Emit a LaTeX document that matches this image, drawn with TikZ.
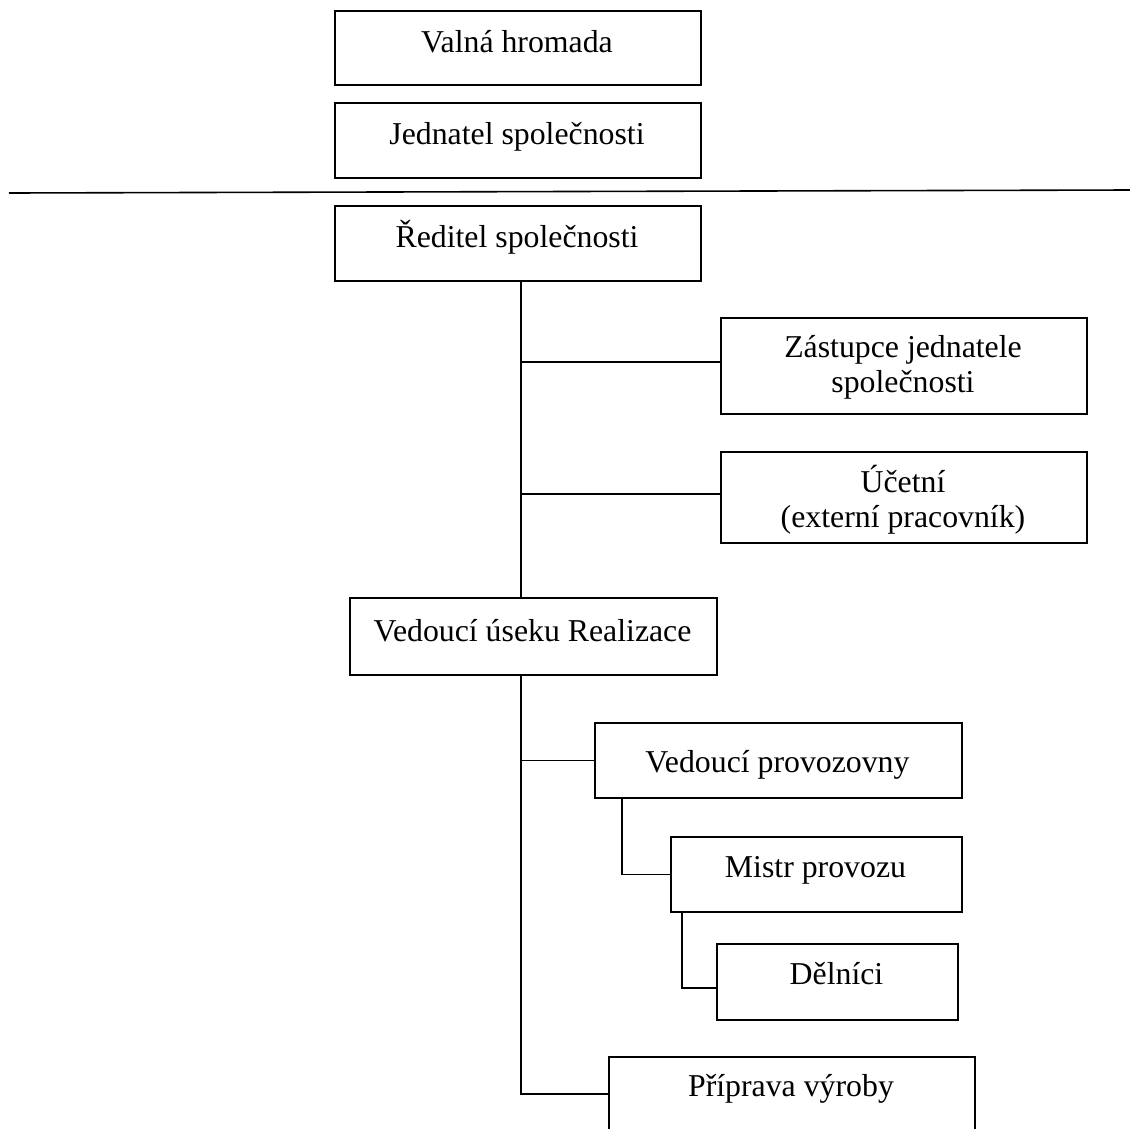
\documentclass[tikz,border=0pt]{standalone}
\usepackage{fontspec}
\setmainfont{Liberation Serif}
\begin{document}
\begin{tikzpicture}[x=1pt,y=-1pt,
  box/.style={draw, line width=1.6pt, inner sep=0pt, anchor=north west},
  txt/.style={anchor=base, inner sep=0pt, font=\fontsize{31.8}{35.5}\selectfont},
  conn/.style={line width=1.6pt}]
\useasboundingbox (0,0) rectangle (1130,1128);
% boxes
\node[box, minimum width=366pt, minimum height=74pt] (valna) at (334,10) {};
\node[box, minimum width=366pt, minimum height=75pt] (jedn) at (334,102) {};
\node[box, minimum width=366pt, minimum height=75pt] (redit) at (334,205) {};
\node[box, minimum width=366pt, minimum height=96pt] (zast) at (720,317) {};
\node[box, minimum width=366pt, minimum height=91pt] (ucet) at (720,451) {};
\node[box, minimum width=367pt, minimum height=77pt] (vedu) at (349,597) {};
\node[box, minimum width=367pt, minimum height=75pt] (vprov) at (594,722) {};
\node[box, minimum width=291pt, minimum height=75pt] (mistr) at (670,836) {};
\node[box, minimum width=241pt, minimum height=76pt] (del) at (716,943) {};
\node[box, minimum width=366pt, minimum height=74pt] (prip) at (608,1056) {};
% texts
\node[txt] (tvalna) at (517,52) {Valná hromada};
\node[txt] (tjedn) at (517,144) {Jednatel společnosti};
\node[txt] (tredit) at (517,247) {Ředitel společnosti};
\node[txt] (tzast) at (903,357) {\begin{tabular}[t]{@{}c@{}}Zástupce jednatele\\společnosti\end{tabular}};
\node[txt] (tucet) at (903,492) {\begin{tabular}[t]{@{}c@{}}Účetní\\(externí pracovník)\end{tabular}};
\node[txt] (tvedu) at (532.5,641) {Vedoucí úseku Realizace};
\node[txt] (tvprov) at (777.5,772) {Vedoucí provozovny};
\node[txt] (tmistr) at (815.5,877) {Mistr provozu};
\node[txt] (tdel) at (836.5,984) {Dělníci};
\node[txt] (tprip) at (791,1096) {Příprava výroby};
% separator line
\coordinate (hl) at (9,193);
\coordinate (hr) at (1130,190);
\draw[conn] (hl) -- (hr);
% connectors
\coordinate (m1) at (521,0);
\coordinate (m2) at (622,0);
\coordinate (m3) at (682,0);
\draw[conn] (redit.south -| m1) -- (vedu.north -| m1);
\draw[conn] ([yshift=4pt]zast.west) -- ([yshift=4pt]zast.west -| m1);
\draw[conn] ([yshift=3.5pt]ucet.west) -- ([yshift=3.5pt]ucet.west -| m1);
\draw[conn] (vedu.south -| m1) -- (prip.west -| m1) -- (prip.west);
\draw[conn] (vprov.west) -- (vprov.west -| m1);
\draw[conn] (vprov.south -| m2) -- (mistr.west -| m2) -- (mistr.west);
\draw[conn] (mistr.south -| m3) -- ([yshift=-6pt]del.west -| m3) -- ([yshift=-6pt]del.west);
\end{tikzpicture}
\end{document}
